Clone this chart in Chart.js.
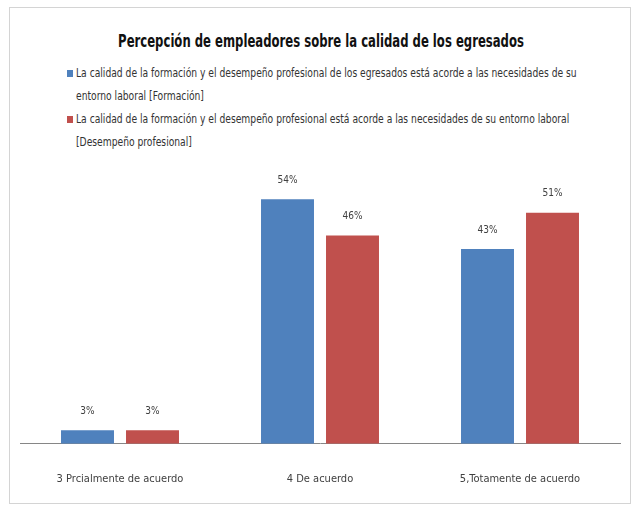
<!DOCTYPE html>
<html>
<head>
<meta charset="utf-8">
<script src="https://cdn.jsdelivr.net/npm/chart.js@4.4.0/dist/chart.umd.min.js"></script>
<style>
  html, body { margin: 0; padding: 0; background: #fff; }
  #wrap { position: relative; width: 632px; height: 511px; overflow: hidden; }
  #frame { position: absolute; left: 9px; top: 7px; width: 622px; height: 497px; border: 1px solid #d4d4d4; box-sizing: border-box; }
  #title { position: absolute; left: 321px; top: 30px; white-space: nowrap;
    transform: translateX(-50%) scaleX(0.72);
    font-family: "DejaVu Sans Condensed", sans-serif; font-weight: bold; font-size: 18px; color: #111; }
  #legend { position: absolute; left: 66px; top: 62px;
    font-family: "DejaVu Sans Condensed", sans-serif; font-size: 12px; color: #333; line-height: 23px; }
  .item { position: relative; padding-left: 10px; }
  .line { display: block; white-space: nowrap; transform: scaleX(0.85); transform-origin: left center; }
  .box { position: absolute; left: 1px; top: 8px; width: 6px; height: 7px; }
  canvas { position: absolute; left: 0; top: 0; }
</style>
</head>
<body>
<div id="wrap">
  <div id="frame"></div>
  <div id="title">Percepción de empleadores sobre la calidad de los egresados</div>
  <div id="legend"></div>
  <canvas id="chart" width="632" height="507"></canvas>
</div>
<script>
const categories = ["3 Prcialmente de acuerdo", "4 De acuerdo", "5,Totamente de acuerdo"];
// legend text, split where the original wraps
const seriesNames = [
  ["La calidad de la formación y el desempeño profesional de los egresados está acorde a las necesidades de su", "entorno laboral [Formación]"],
  ["La calidad de la formación y el desempeño profesional está acorde a las necesidades de su entorno laboral", "[Desempeño profesional]"]
];
const formacion = [3, 54, 43];
const desempeno = [3, 46, 51];
const colors = ["#4F81BD", "#C0504D"];

const legend = document.getElementById("legend");
seriesNames.forEach(function (lines, i) {
  const div = document.createElement("div");
  div.className = "item";
  let html = '<span class="box" style="background:' + colors[i] + '"></span>';
  lines.forEach(function (t) { html += '<span class="line">' + t + '</span>'; });
  div.innerHTML = html;
  legend.appendChild(div);
});

const valueLabels = {
  id: "valueLabels",
  afterDatasetsDraw(chart) {
    const ctx = chart.ctx;
    ctx.save();
    ctx.font = "10px 'DejaVu Sans Condensed', sans-serif";
    ctx.fillStyle = "#404040";
    ctx.textAlign = "center";
    ctx.textBaseline = "middle";
    chart.data.datasets.forEach(function (ds, i) {
      chart.getDatasetMeta(i).data.forEach(function (bar, j) {
        ctx.fillText(ds.data[j] + "%", bar.x, bar.y - 19);
      });
    });
    ctx.restore();
  }
};

new Chart(document.getElementById("chart"), {
  type: "bar",
  data: {
    labels: categories,
    datasets: [
      { label: seriesNames[0].join(" "), data: formacion, backgroundColor: colors[0], categoryPercentage: 0.65, barPercentage: 0.815 },
      { label: seriesNames[1].join(" "), data: desempeno, backgroundColor: colors[1], categoryPercentage: 0.65, barPercentage: 0.815 }
    ]
  },
  options: {
    responsive: false,
    animation: false,
    layout: { padding: { top: 172, left: 20, right: 12, bottom: 0 } },
    plugins: {
      legend: { display: false },
      title: { display: false },
      tooltip: { enabled: false }
    },
    scales: {
      x: {
        grid: { display: false },
        border: { display: true, color: "#868686", width: 1 },
        ticks: {
          color: "#404040",
          padding: 21,
          font: { family: "'DejaVu Sans Condensed', sans-serif", size: 11 }
        }
      },
      y: { display: false, min: 0, max: 60 }
    }
  },
  plugins: [valueLabels]
});
</script>
</body>
</html>
